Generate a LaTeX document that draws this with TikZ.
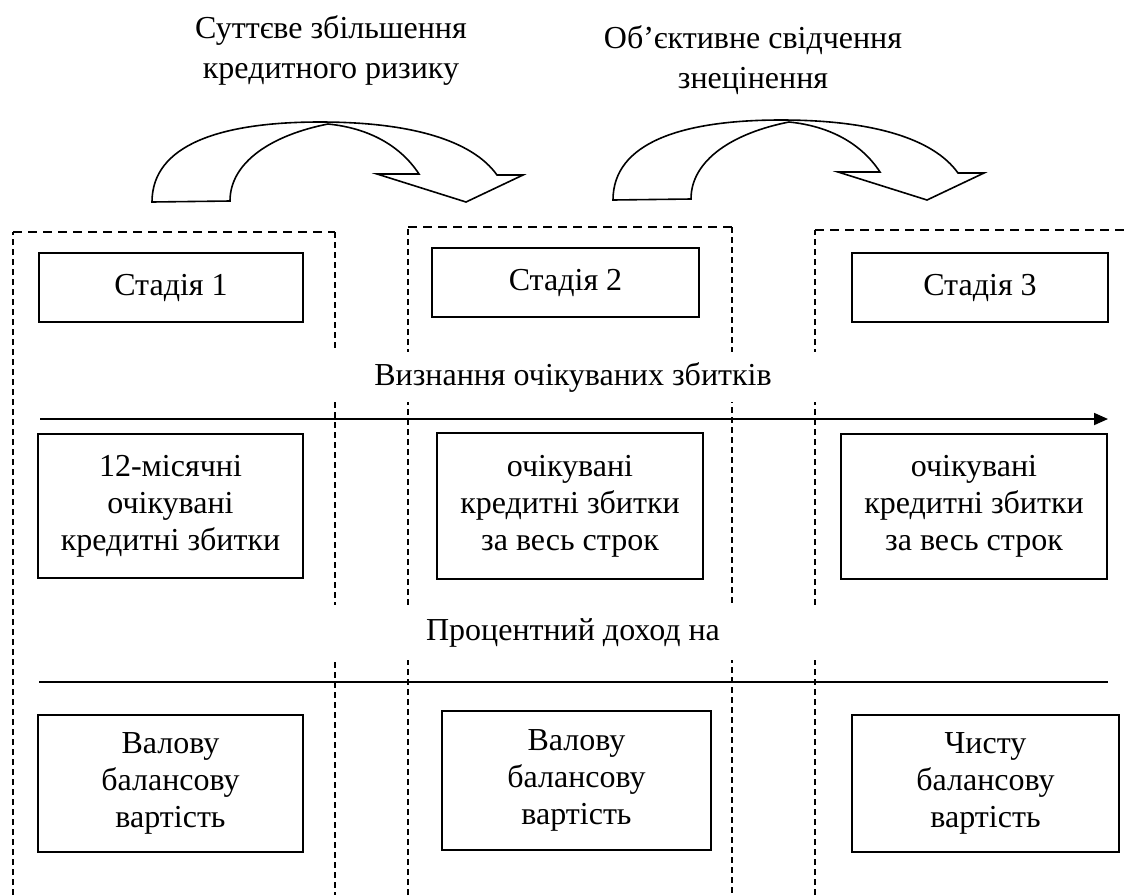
\documentclass[tikz,border=0pt]{standalone}
\usepackage{fontspec}
\setmainfont{Liberation Serif}
\usetikzlibrary{arrows.meta}
\tikzset{
  box/.style={draw, line width=1.8pt, fill=white, align=center, inner sep=0pt},
  band/.style={fill=white, inner sep=0pt, align=center},
  lbl/.style={align=center, inner sep=0pt, font=\fontsize{32}{40}\selectfont},
  hdash/.style={line width=1.3pt, dash pattern=on 9pt off 6pt},
  vdash/.style={line width=1.3pt, dash pattern=on 6pt off 4pt},
  solidline/.style={line width=1.8pt},
  curvearrow/.style={line width=1.6pt, line join=miter, fill=white},
}
\begin{document}
\begin{tikzpicture}[x=1pt, y=-1pt, font=\fontsize{32}{37}\selectfont]
\useasboundingbox (0,0) rectangle (1126,895);
\fill[white] (0,0) rectangle (1126,895);

% dashed column frames
\coordinate (c1bl) at (13,895);  \coordinate (c1tl) at (13,232);
\coordinate (c1tr) at (335,232); \coordinate (c1br) at (335,895);
\coordinate (c2bl) at (408,895); \coordinate (c2tl) at (408,227);
\coordinate (c2tr) at (732,227); \coordinate (c2br) at (732,895);
\coordinate (c3bl) at (815,895); \coordinate (c3tl) at (815,230);
\coordinate (c3tr) at (1126,230);
\draw[vdash] (c1bl) -- (c1tl);
\draw[hdash] (c1tl) -- (c1tr);
\draw[vdash] (c1tr) -- (c1br);
\draw[vdash] (c2bl) -- (c2tl);
\draw[hdash] (c2tl) -- (c2tr);
\draw[vdash] (c2tr) -- (c2br);
\draw[vdash] (c3bl) -- (c3tl);
\draw[hdash] (c3tl) -- (c3tr);

% curved arrows
\draw[curvearrow] (152,202) .. controls (152,145) and (220,122) .. (320,122)
  .. controls (410,122) and (472,140) .. (497,175)
  -- (523,175) -- (466,202) -- (377,174) -- (419,174)
  .. controls (400,145) and (368,128) .. (328,124)
  .. controls (272,135) and (230,162) .. (230,201) -- cycle;
\begin{scope}[shift={(461,-2)}]
\draw[curvearrow] (152,202) .. controls (152,145) and (220,122) .. (320,122)
  .. controls (410,122) and (472,140) .. (497,175)
  -- (523,175) -- (466,202) -- (377,174) -- (419,174)
  .. controls (400,145) and (368,128) .. (328,124)
  .. controls (272,135) and (230,162) .. (230,201) -- cycle;
\end{scope}

% top labels
\node[lbl] (t1) at (331,50) {Суттєве збільшення\\кредитного ризику};
\node[lbl] (t2) at (753,60) {Об’єктивне свідчення\\знецінення};

% stage boxes
\node[box, minimum width=264pt, minimum height=69pt] (s1) at (171,287.5) {Стадія 1};
\node[box, minimum width=267pt, minimum height=69pt] (s2) at (565.5,282.5) {Стадія 2};
\node[box, minimum width=256pt, minimum height=69pt] (s3) at (980,287.5) {Стадія 3};

% recognition band
\node[band, minimum width=1070pt, minimum height=50pt] (rec) at (573,377) {Визнання очікуваних збитків};
\coordinate (ra) at (40,419);
\coordinate (rb) at (1108,419);
\draw[solidline, -{Triangle[length=14pt, width=12pt]}] (ra) -- (rb);

% row 2
\node[box, minimum width=265pt, minimum height=144pt] (e1) at (170.5,506) {12-місячні\\очікувані\\кредитні збитки};
\node[box, minimum width=266pt, minimum height=146pt] (e2) at (570,506) {очікувані\\кредитні збитки\\за весь строк};
\node[box, minimum width=266pt, minimum height=145pt] (e3) at (974,506.5) {очікувані\\кредитні збитки\\за весь строк};

% interest band
\node[band, minimum width=1070pt, minimum height=55pt] (int) at (573,632.5) {Процентний доход на};
\coordinate (ia) at (39,682);
\coordinate (ib) at (1108,682);
\draw[solidline] (ia) -- (ib);

% row 3
\node[box, minimum width=265pt, minimum height=137pt] (b1) at (170.5,783.5) {Валову\\балансову\\вартість};
\node[box, minimum width=269pt, minimum height=139pt] (b2) at (576.5,780.5) {Валову\\балансову\\вартість};
\node[box, minimum width=267pt, minimum height=137pt] (b3) at (985.5,783.5) {Чисту\\балансову\\вартість};
\end{tikzpicture}
\end{document}
